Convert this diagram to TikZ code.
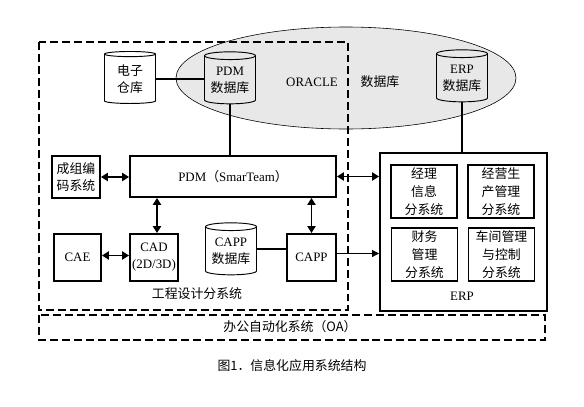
\documentclass[tikz,border=0pt]{standalone}
\usepackage{fontspec}
\setmainfont{Liberation Serif}
\newfontfamily\cjk{Noto Sans CJK SC}
\usetikzlibrary{shapes.geometric, arrows.meta}

\tikzset{
    txt/.style={font=\fontsize{11}{14.5}\selectfont, align=center, inner sep=0pt},
    modbox/.style={txt, draw, line width=1.6pt},
    subbox/.style={txt, font=\fontsize{11}{15.5}\selectfont, draw, line width=0.9pt, minimum width=19.8mm, minimum height=15.9mm},
    dbase/.style={txt, cylinder, shape border rotate=90, draw, line width=0.8pt, aspect=0.2,
        minimum width=15.3mm, minimum height=15.6mm},
    link/.style={line width=1.6pt},
    twoway/.style={line width=1.6pt, {Triangle[length=6pt,width=7pt]}-{Triangle[length=6pt,width=7pt]}},
    dashbox/.style={line width=1.4pt, dash pattern=on 6.8pt off 3.4pt}
}

\begin{document}
\begin{tikzpicture}[x=0.3mm, y=-0.3mm]
    \useasboundingbox (0,0) rectangle (584,407);
    % oracle database area
    \node[ellipse, draw, line width=0.5pt, fill=gray!18, minimum width=102mm, minimum height=30.6mm] (oracle) at (346,78) {};
    \node[txt] (oraname) at (312,82) {ORACLE};
    \node[txt] (oradb) at (380,82) {\cjk 数据库};
    % engineering design subsystem
    \draw[dashbox] (39,42) rectangle (348,310);
    \node[txt] (englabel) at (197,294) {\cjk 工程设计分系统};
    % databases
    \node[dbase, fill=white] (edoc) at (130,79) {\cjk 电子\\\cjk 仓库};
    \node[dbase] (pdmdb) at (230,80) {PDM\\\cjk 数据库};
    \node[dbase] (erpdb) at (462,78) {ERP\\\cjk 数据库};
    \node[dbase, fill=white] (cappdb) at (231,251) {CAPP\\\cjk 数据库};
    % modules
    \node[modbox, minimum width=61.8mm, minimum height=12.3mm] (pdm) at (233,176.5) {PDM{\cjk （}SmarTeam{\cjk ）}};
    \node[modbox, minimum width=14.4mm, minimum height=12.6mm] (gt) at (76,177) {\cjk 成组编\\\cjk 码系统};
    \node[modbox, minimum width=14.1mm, minimum height=14.1mm] (cae) at (77.5,257.5) {CAE};
    \node[modbox, minimum width=14.4mm, minimum height=14.1mm] (cad) at (154,257.5) {CAD\\(2D/3D)};
    \node[modbox, minimum width=14.7mm, minimum height=14.1mm] (capp) at (311.5,257.5) {CAPP};
    % ERP
    \node[modbox, minimum width=50.1mm, minimum height=47.4mm] (erp) at (463.5,232) {};
    \node[txt] (erplabel) at (462,296) {ERP};
    \node[subbox] (mis) at (424,191.5) {\cjk 经理\\\cjk 信息\\\cjk 分系统};
    \node[subbox] (prod) at (501,191.5) {\cjk 经营生\\\cjk 产管理\\\cjk 分系统};
    \node[subbox] (fin) at (424.5,254.5) {\cjk 财务\\\cjk 管理\\\cjk 分系统};
    \node[subbox] (shop) at (501.5,254.5) {\cjk 车间管理\\\cjk 与控制\\\cjk 分系统};
    % office automation
    \draw[dashbox] (39,315) rectangle (545,340);
    \node[txt] (oa) at (290,327) {\cjk 办公自动化系统（OA）};
    \node[txt] (caption) at (292,366) {\cjk 图1．信息化应用系统结构};
    % connections
    \draw[link] (edoc.east) -- (edoc.east -| pdmdb.west);
    \draw[line width=2.2pt] (pdmdb.south) -- (pdmdb.south |- pdm.north);
    \draw[link] (erpdb.south) -- (erpdb.south |- erp.north);
    \draw[twoway] (gt.east) -- (gt.east -| pdm.west);
    \draw[twoway] (pdm.east) -- (pdm.east -| erp.west);
    \draw[twoway] ([xshift=0.9mm]cad.north) -- ([xshift=0.9mm]cad.north |- pdm.south);
    \draw[twoway] (capp.north) -- (capp.north |- pdm.south);
    \draw[twoway] ([yshift=0.6mm]cae.east) -- ([yshift=0.6mm]cae.east -| cad.west);
    \draw[link] ([yshift=0.6mm]cappdb.east) -- ([yshift=0.6mm]cappdb.east -| capp.west);
    \draw[line width=0.8pt, -{Triangle[length=6pt,width=6pt]}] ([yshift=1.2mm]capp.east) -- ([yshift=1.2mm]capp.east -| erp.west);
\end{tikzpicture}
\end{document}
